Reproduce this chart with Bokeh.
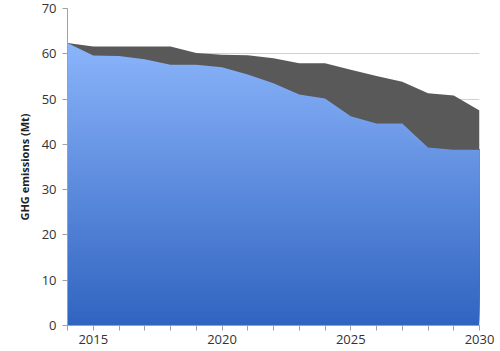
import numpy as np
from bokeh.plotting import figure
from bokeh.models import Range1d, FixedTicker
from bokeh.embed import file_html
from bokeh.resources import INLINE

years = list(range(2014, 2031))
# blue series (lower area)
blue = [62.4, 59.6, 59.5, 58.8, 57.6, 57.6, 57.0, 55.4, 53.5, 51.0, 50.1, 46.2, 44.6, 44.6, 39.3, 38.8, 38.8]
# total (top of dark grey area)
total = [62.4, 61.6, 61.6, 61.6, 61.6, 60.2, 59.8, 59.7, 59.0, 57.9, 57.9, 56.5, 55.1, 53.8, 51.3, 50.8, 47.5]
x_labels = {2015: "2015", 2020: "2020", 2025: "2025", 2030: "2030"}

p = figure(width=500, height=351, output_backend="svg", toolbar_location=None,
           x_range=Range1d(2014, 2030), y_range=Range1d(0, 70),
           min_border_left=67, min_border_right=21, min_border_top=8, min_border_bottom=26)
p.outline_line_color = None
p.background_fill_color = "white"
p.border_fill_color = "white"

x = np.array(years, dtype=float)
b = np.array(blue)
t = np.array(total)

# gradient blue fill: painter's bands, each from its lower edge up to the blue series
top_c = np.array([140, 181, 251])
bot_c = np.array([48, 100, 192])
nb = 90
ymax = 63.0
edges = np.linspace(0, ymax, nb + 1)
for i in range(nb):
    lo = edges[i]
    f = (lo + ymax / nb / 2) / ymax
    c = bot_c + (top_c - bot_c) * f
    col = "#%02x%02x%02x" % tuple(int(round(v)) for v in c)
    y1 = np.minimum(b, lo)
    p.varea(x=x, y1=y1, y2=b, fill_color=col)

p.varea(x=x, y1=b, y2=t, fill_color="#595959")

p.xgrid.grid_line_color = None
p.ygrid.grid_line_color = "#d0d0d0"
p.ygrid.grid_line_width = 1
p.yaxis.ticker = FixedTicker(ticks=list(range(0, 71, 10)))
p.xaxis.ticker = FixedTicker(ticks=years)
p.xaxis.major_label_overrides = {yr: x_labels.get(yr, "") for yr in years}

for ax in (p.xaxis[0], p.yaxis[0]):
    ax.axis_line_color = "#a0a0a0"
    ax.major_tick_line_color = "#a0a0a0"
    ax.minor_tick_line_color = None
    ax.major_tick_in = 0
    ax.major_tick_out = 5
    ax.major_label_text_font = "Open Sans"
    ax.major_label_text_font_size = "13px"
    ax.major_label_text_color = "#333333"

p.yaxis.axis_label = "GHG emissions (Mt)"
p.yaxis.axis_label_text_font = "Open Sans"
p.yaxis.axis_label_text_font_style = "bold"
p.yaxis.axis_label_text_font_size = "11px"
p.yaxis.axis_label_text_color = "#222222"
p.yaxis.axis_label_standoff = 7
p.xaxis.major_label_standoff = 4
p.yaxis.major_label_standoff = 6

open("out.html", "w").write(file_html(p, INLINE))
